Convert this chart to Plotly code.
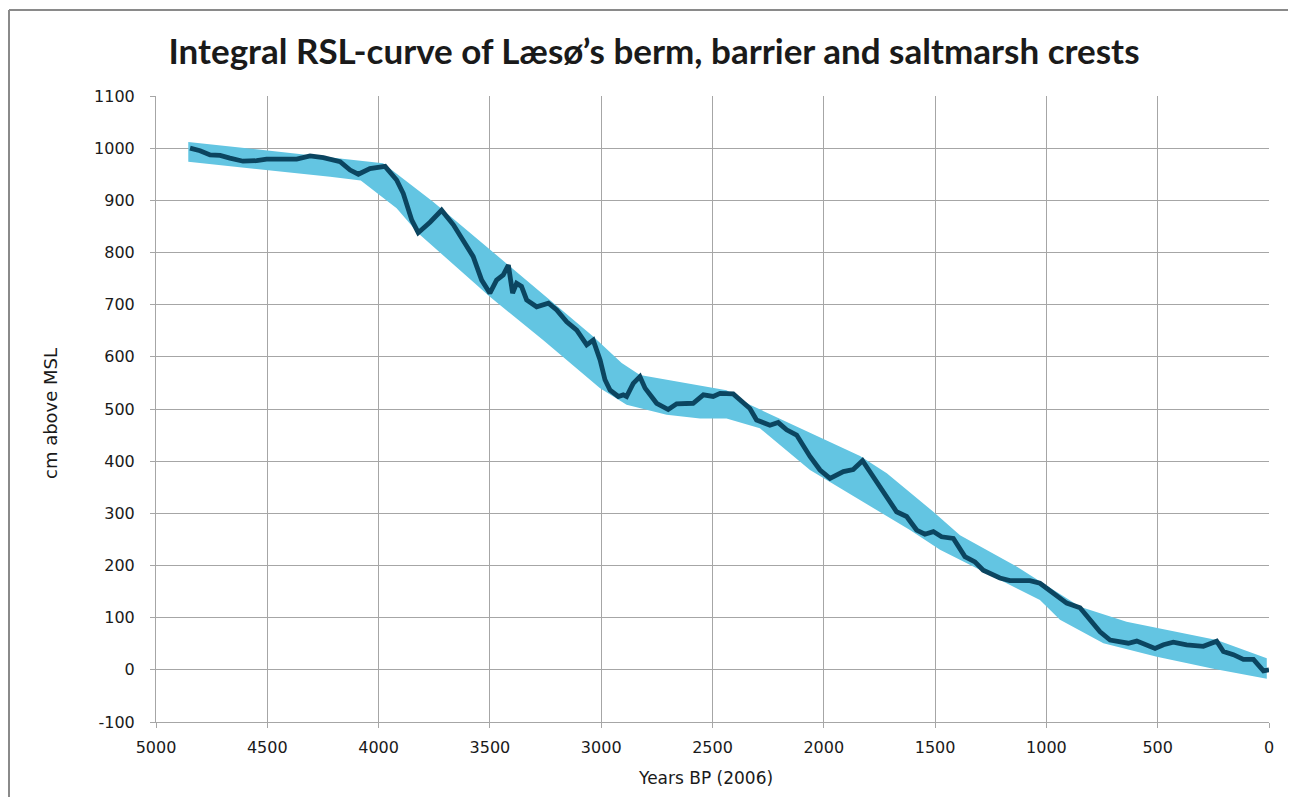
import plotly.graph_objects as go

# RSL curve (Years BP, cm above MSL)
line_years = [4847, 4802, 4757, 4712, 4668, 4609, 4548, 4503, 4368, 4308, 4248, 4173, 4128, 4091,
              4039, 3971, 3919, 3889, 3851, 3822, 3769, 3717, 3664, 3620, 3575, 3537, 3500, 3470,
              3440, 3417, 3398, 3380, 3358, 3335, 3290, 3237, 3200, 3155, 3110, 3065, 3036, 3005,
              2983, 2960, 2923, 2901, 2886, 2856, 2826, 2803, 2751, 2699, 2661, 2587, 2541, 2497,
              2466, 2407, 2377, 2332, 2302, 2242, 2205, 2167, 2122, 2062, 2017, 1972, 1912, 1868,
              1826, 1778, 1718, 1673, 1628, 1583, 1546, 1508, 1471, 1418, 1366, 1321, 1284, 1253,
              1209, 1164, 1074, 1029, 969, 909, 849, 804, 759, 714, 654, 632, 594, 549, 512, 474,
              430, 370, 295, 235, 205, 160, 115, 70, 25, 0]
line_rsl = [1000, 995, 987, 986, 981, 975, 976, 979, 979, 985, 982, 974, 958, 950,
            961, 965, 939, 913, 862, 838, 858, 881, 853, 824, 792, 747, 722, 747,
            757, 776, 722, 741, 735, 709, 696, 703, 690, 667, 651, 623, 632, 594,
            556, 536, 524, 527, 524, 549, 562, 540, 511, 499, 510, 511, 527, 524,
            530, 529, 517, 501, 479, 469, 474, 460, 450, 409, 383, 367, 380, 384,
            401, 370, 335, 303, 294, 268, 260, 265, 255, 252, 217, 207, 191, 185,
            176, 171, 171, 166, 147, 128, 119, 96, 73, 57, 54, 51, 55, 46, 41, 48,
            53, 48, 45, 55, 35, 29, 20, 20, -2, 0]

# Uncertainty envelope
upper_years = [4855, 3980, 3754, 3515, 3215, 3036, 2908, 2826, 2437, 2332, 1837, 1717, 1508,
               1388, 1134, 1014, 849, 640, 235, 10]
upper_rsl = [1012, 971, 897, 811, 703, 639, 588, 565, 536, 508, 410, 377, 303,
             258, 198, 166, 121, 92, 57, 22]
lower_years = [4855, 4218, 4080, 3919, 3822, 3500, 3260, 3005, 2886, 2706, 2556, 2437, 2287,
               2062, 1837, 1763, 1613, 1478, 1029, 939, 744, 504, 250, 10]
lower_rsl = [974, 945, 938, 885, 837, 715, 632, 540, 508, 489, 482, 482, 463,
             383, 326, 306, 268, 230, 134, 96, 51, 25, 2, -17]

# Tick labels
x_ticks = [5000, 4500, 4000, 3500, 3000, 2500, 2000, 1500, 1000, 500, 0]
y_ticks = [-100, 0, 100, 200, 300, 400, 500, 600, 700, 800, 900, 1000, 1100]
x_ticktext = [str(v) for v in x_ticks]
y_ticktext = [str(v) for v in y_ticks]

title_text = "Integral RSL-curve of Læsø’s berm, barrier and saltmarsh crests"
x_title = "Years BP (2006)"
y_title = "cm above MSL"

fig = go.Figure()
fig.add_trace(go.Scatter(
    x=upper_years + lower_years[::-1],
    y=upper_rsl + lower_rsl[::-1],
    fill="toself", fillcolor="#63C5E2", mode="lines",
    line=dict(width=0, color="#63C5E2"), hoverinfo="skip", showlegend=False))
fig.add_trace(go.Scatter(
    x=line_years, y=line_rsl, mode="lines",
    line=dict(color="#0B4560", width=4.8), showlegend=False))

# page is offset by the 8px default body margin
OFF = 8
W, H = 1296, 797
L, R, T, B = 148, 35, 88, 83
pw, ph = W - L - R, H - T - B

def px(x):
    return (x - OFF - L) / pw

def py(y):
    return (H - B - (y - OFF)) / ph

border = dict(color="#8a8a8a", width=2)
fig.add_shape(type="line", xref="paper", yref="paper", x0=px(9), x1=px(9), y0=py(10), y1=py(810), line=border)
fig.add_shape(type="line", xref="paper", yref="paper", x0=px(9), x1=px(1294), y0=py(10), y1=py(10), line=border)
fig.add_shape(type="line", xref="paper", yref="paper", x0=px(1294), x1=px(1294), y0=py(10), y1=py(810), line=border)

txt = dict(family="DejaVu Sans", size=17, color="#1a1a1a")
fig.add_annotation(text=y_title, xref="paper", yref="paper", x=px(50), y=py(414),
                   xanchor="center", yanchor="middle", textangle=-90, showarrow=False,
                   font=dict(family="DejaVu Sans", size=18, color="#1a1a1a"))
fig.add_annotation(text=x_title, xref="paper", yref="paper", x=px(705), y=py(778),
                   xanchor="center", yanchor="middle", showarrow=False, font=txt)

fig.update_layout(
    width=W, height=H,
    margin=dict(l=L, r=R, t=T, b=B),
    paper_bgcolor="white", plot_bgcolor="white",
    title=dict(text="<b>" + title_text + "</b>", x=(654 - OFF) / W, xref="container", xanchor="center",
               y=1 - (52 - OFF) / H, yref="container", yanchor="middle",
               font=dict(family="Lato", size=35, color="#1a1a1a")),
    xaxis=dict(range=[5000, 0], tickmode="array", tickvals=x_ticks, ticktext=x_ticktext,
               showgrid=True, gridcolor="#a6a6a6", gridwidth=1,
               showline=True, linecolor="#a6a6a6", linewidth=1,
               ticks="outside", ticklen=5, tickcolor="#a6a6a6",
               tickfont=dict(family="DejaVu Sans", size=16, color="#1a1a1a"),
               ticklabelstandoff=6, zeroline=False),
    yaxis=dict(range=[-100, 1100], tickmode="array", tickvals=y_ticks, ticktext=y_ticktext,
               showgrid=True, gridcolor="#a6a6a6", gridwidth=1,
               showline=True, linecolor="#a6a6a6", linewidth=1,
               ticks="outside", ticklen=5, tickcolor="#a6a6a6",
               tickfont=dict(family="DejaVu Sans", size=16, color="#1a1a1a"),
               ticklabelstandoff=12, zeroline=False),
)

fig.write_html("out.html")
